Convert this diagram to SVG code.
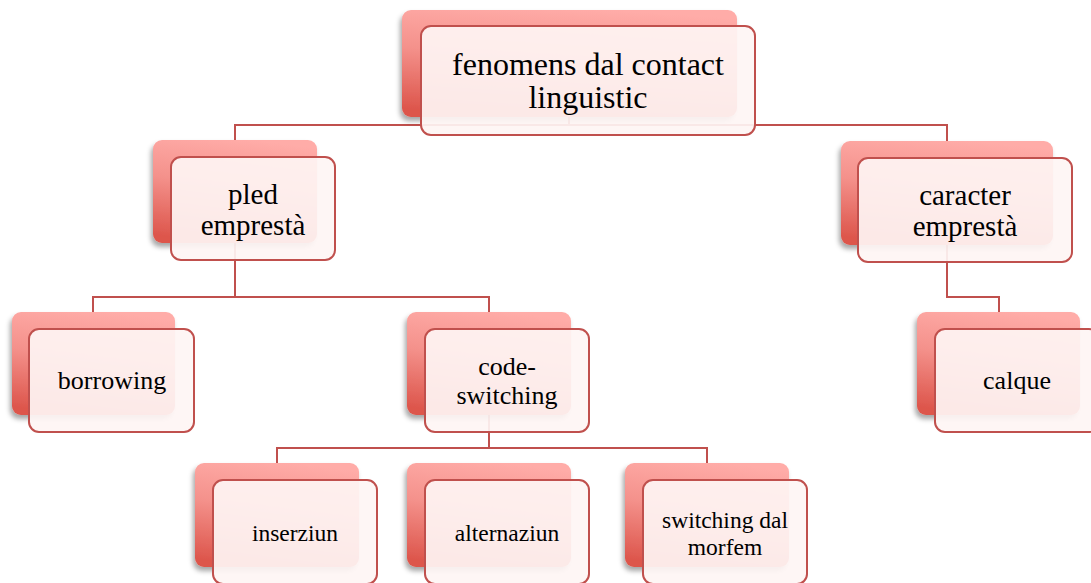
<svg xmlns="http://www.w3.org/2000/svg" width="1091" height="583" viewBox="0 0 1091 583">
<defs>
<linearGradient id="bg" x1="0.6" y1="0" x2="0.4" y2="1">
<stop offset="0" stop-color="#ffaca8"/>
<stop offset="0.45" stop-color="#f4918b"/>
<stop offset="1" stop-color="#dd564c"/>
</linearGradient>
<filter id="sh" x="-10%" y="-10%" width="120%" height="130%">
<feDropShadow dx="-2" dy="4" stdDeviation="2.5" flood-color="#000" flood-opacity="0.35"/>
</filter>
<style>
.back{fill:url(#bg);filter:url(#sh)}
.front{fill:#fef5f4;fill-opacity:0.92;stroke:#c0504d;stroke-width:2}
.conn{fill:none;stroke:#c0504d;stroke-width:2}
.lbl{font-family:'Liberation Serif',serif;fill:#000;text-anchor:middle}
.t1{font-size:32px}
.t2{font-size:29px}
.t3{font-size:26px}
.t4{font-size:23.5px}
</style>
</defs>
<rect width="1091" height="583" fill="#fff"/>
<g id="connectors">
<path class="conn" d="M569,117 V125 M235,140 V125 H947 V141"/>
<path class="conn" d="M235,243 V297 M93,312 V297 H489 V312"/>
<path class="conn" d="M489,415 V448 M277,463 V448 H707 V463"/>
<path class="conn" d="M947,245 V297 H999 V312"/>
</g>
<g id="n-root">
<rect class="back" x="402" y="10" width="335" height="107" rx="9"/>
<rect class="front" x="421" y="26" width="334" height="109" rx="10"/>
<text class="lbl t1" font-family="Liberation Serif, serif" x="588" y="75">fenomens dal contact</text>
<text class="lbl t1" font-family="Liberation Serif, serif" x="588" y="108">linguistic</text>
</g>
<g id="n-pled">
<rect class="back" x="153" y="140" width="164" height="103" rx="9"/>
<rect class="front" x="171" y="157" width="164" height="103" rx="10"/>
<text class="lbl t2" font-family="Liberation Serif, serif" x="253" y="204">pled</text>
<text class="lbl t2" font-family="Liberation Serif, serif" x="253" y="235">emprestà</text>
</g>
<g id="n-caracter">
<rect class="back" x="841" y="141" width="212" height="104" rx="9"/>
<rect class="front" x="858" y="158" width="214" height="104" rx="10"/>
<text class="lbl t2" font-family="Liberation Serif, serif" x="965" y="205">caracter</text>
<text class="lbl t2" font-family="Liberation Serif, serif" x="965" y="236">emprestà</text>
</g>
<g id="n-borrowing">
<rect class="back" x="12" y="312" width="163" height="103" rx="9"/>
<rect class="front" x="29" y="329" width="165" height="103" rx="10"/>
<text class="lbl t3" font-family="Liberation Serif, serif" x="112" y="389">borrowing</text>
</g>
<g id="n-codeswitching">
<rect class="back" x="407" y="312" width="164" height="103" rx="9"/>
<rect class="front" x="425" y="329" width="164" height="103" rx="10"/>
<text class="lbl t3" font-family="Liberation Serif, serif" x="507" y="375">code-</text>
<text class="lbl t3" font-family="Liberation Serif, serif" x="507" y="404">switching</text>
</g>
<g id="n-calque">
<rect class="back" x="917" y="312" width="163" height="103" rx="9"/>
<rect class="front" x="935" y="329" width="164" height="103" rx="10"/>
<text class="lbl t3" font-family="Liberation Serif, serif" x="1017" y="389">calque</text>
</g>
<g id="n-inserziun">
<rect class="back" x="195" y="463" width="164" height="104" rx="9"/>
<rect class="front" x="213" y="480" width="164" height="104" rx="10"/>
<text class="lbl t4" font-family="Liberation Serif, serif" x="295" y="541">inserziun</text>
</g>
<g id="n-alternaziun">
<rect class="back" x="407" y="463" width="164" height="104" rx="9"/>
<rect class="front" x="425" y="480" width="164" height="104" rx="10"/>
<text class="lbl t4" font-family="Liberation Serif, serif" x="507" y="541">alternaziun</text>
</g>
<g id="n-morfem">
<rect class="back" x="625" y="463" width="164" height="104" rx="9"/>
<rect class="front" x="643" y="480" width="164" height="104" rx="10"/>
<text class="lbl t4" font-family="Liberation Serif, serif" x="725" y="528">switching dal</text>
<text class="lbl t4" font-family="Liberation Serif, serif" x="725" y="555">morfem</text>
</g>
</svg>
